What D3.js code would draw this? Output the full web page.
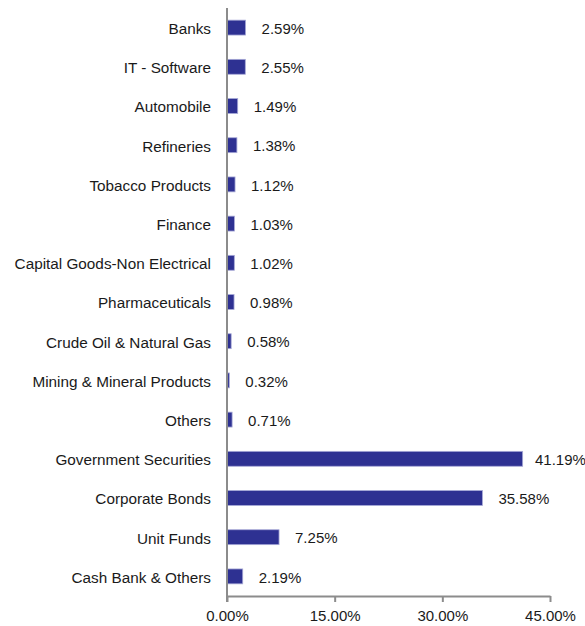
<!DOCTYPE html>
<html><head><meta charset="utf-8">
<script src="https://cdn.jsdelivr.net/npm/d3@7"></script>
<style>body{margin:0;background:#fff;}svg{display:block;}text{font-family:"Liberation Sans",Arial,sans-serif;}</style>
</head><body><svg id="c" width="585" height="626"></svg>
<script>
const categories = ["Banks","IT - Software","Automobile","Refineries","Tobacco Products","Finance","Capital Goods-Non Electrical","Pharmaceuticals","Crude Oil & Natural Gas","Mining & Mineral Products","Others","Government Securities","Corporate Bonds","Unit Funds","Cash Bank & Others"];
const values = [2.59,2.55,1.49,1.38,1.12,1.03,1.02,0.98,0.58,0.32,0.71,41.19,35.58,7.25,2.19];
const tickValues = [0,15,30,45];

const svg = d3.select("#c");
const x0 = 227, x1 = 550, yTop = 8, yBot = 596;
const x = d3.scaleLinear().domain([0,45]).range([x0,x1]);
const y = d3.scaleBand().domain(categories).range([yTop,yBot]).paddingInner(0.62).paddingOuter(0.31);

svg.selectAll("rect.bar").data(categories).join("rect")
  .attr("class","bar")
  .attr("x", x(0))
  .attr("y", d=>y(d))
  .attr("width", (d,i)=>x(values[i])-x(0))
  .attr("height", y.bandwidth())
  .attr("fill","#2e3192")
  .attr("stroke","#a6a8d6")
  .attr("stroke-width",0.8);

svg.selectAll("text.val").data(categories).join("text")
  .attr("class","val")
  .attr("x",(d,i)=>Math.min(x(values[i])+16, 535))
  .attr("y", d=>y(d)+y.bandwidth()/2+1)
  .attr("dy","0.35em")
  .attr("font-size",15)
  .attr("fill","#1a1a1a")
  .text((d,i)=>values[i].toFixed(2)+"%");

svg.selectAll("text.cat").data(categories).join("text")
  .attr("class","cat")
  .attr("x", 211)
  .attr("y", d=>y(d)+y.bandwidth()/2+1)
  .attr("dy","0.35em")
  .attr("text-anchor","end")
  .attr("font-size",15.3)
  .attr("fill","#1a1a1a")
  .text(d=>d);

// axes
const gx = svg.append("g").attr("transform",`translate(0,${yBot})`)
  .call(d3.axisBottom(x).tickValues(tickValues).tickSize(6).tickSizeOuter(0).tickFormat(d=>d.toFixed(2)+"%"));
gx.select(".domain").attr("stroke","#8c8c8c").attr("stroke-width",2);
gx.selectAll(".tick line").attr("stroke","#8c8c8c").attr("stroke-width",2);
gx.selectAll(".tick text").attr("font-size",15).attr("fill","#1a1a1a").attr("font-family","Liberation Sans, Arial, sans-serif").attr("dy","1.05em");

svg.append("line").attr("x1",x0).attr("x2",x0).attr("y1",yTop).attr("y2",yBot+6)
  .attr("stroke","#8c8c8c").attr("stroke-width",2);
</script></body></html>
